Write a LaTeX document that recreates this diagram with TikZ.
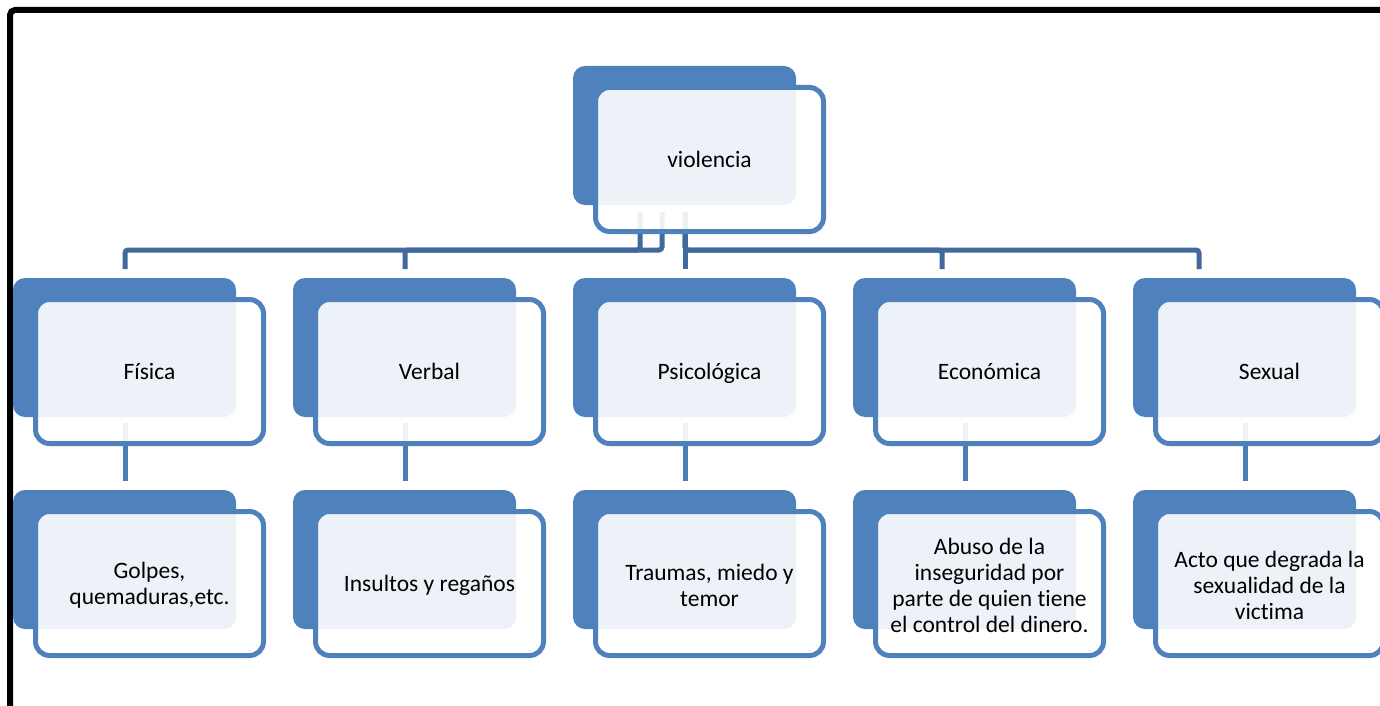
\documentclass[tikz,border=0pt]{standalone}
\usepackage{fontspec}
\setmainfont{Carlito}[Ligatures=NoCommon]
\definecolor{bbl}{HTML}{4F81BD}
\definecolor{cdark}{HTML}{41699B}
\definecolor{cmid}{HTML}{4A7EBA}
\begin{document}
\begin{tikzpicture}[x=1pt,y=-1pt,
  backbox/.style={draw=none, fill=bbl, rounded corners=12pt, minimum width=223pt, minimum height=139pt, anchor=north west, inner sep=0pt, outer sep=0pt},
  frontbox/.style={draw=bbl, line width=5pt, fill=white, fill opacity=0.9, text opacity=1, rounded corners=14pt, minimum width=228pt, minimum height=144pt, anchor=north west, inner sep=0pt, outer sep=0pt, align=center, font=\fontsize{23.5}{26}\selectfont, execute at begin node={\rule{0pt}{24pt}}, execute at end node={\strut}},
  mtext/.style={inner sep=0pt, align=center, font=\fontsize{23.5}{26}\selectfont, yshift=-1.5pt},
  topconn/.style={draw=cdark, line width=5pt, rounded corners=3pt},
  midconn/.style={draw=cmid, line width=5pt}]
\useasboundingbox (0,0) rectangle (1380,706);
\clip (0,0) rectangle (1380,706);
\fill[white] (0,0) rectangle (1380,706);
% frame
\draw[black, line width=6pt, rounded corners=5pt] (10,730) -- (10,10) -- (1400,10);
% back boxes
\node[backbox] (b0) at (573,66) {};
\node[backbox] (b1) at (13,278) {};
\node[backbox] (b2) at (293,278) {};
\node[backbox] (b3) at (573,278) {};
\node[backbox] (b4) at (853,278) {};
\node[backbox] (b5) at (1133,278) {};
\node[backbox] (c1) at (13,490) {};
\node[backbox] (c2) at (293,490) {};
\node[backbox] (c3) at (573,490) {};
\node[backbox] (c4) at (853,490) {};
\node[backbox] (c5) at (1133,490) {};
% connector end points
\coordinate (s1) at (640,212);
\coordinate (s2) at (662,212);
\coordinate (s3) at (685,212);
\coordinate (e1) at (125,269);
\coordinate (e2) at (405,269);
\coordinate (e3) at (685,269);
\coordinate (e4) at (942,269);
\coordinate (e5) at (1199,269);
\draw[topconn] (s1) -- (640,250) -- (125,250) -- (e1);
\draw[topconn] (s2) -- (662,250) -- (405,250) -- (e2);
\draw[topconn] (s3) -- (e3);
\draw[topconn] (s3) -- (685,250) -- (942,250) -- (e4);
\draw[topconn] (s3) -- (685,250) -- (1199,250) -- (e5);
\foreach \i/\x in {1/125,2/405,3/685,4/965,5/1245}{
  \coordinate (m\i) at (\x,423);
  \coordinate (n\i) at (\x,481);
  \draw[midconn] (m\i) -- (n\i);
}
% front boxes
\node[frontbox] (f0) at (595.5,87.5) {violencia};
\node[frontbox] (f1) at (35.5,299.5) {Física};
\node[frontbox] (f2) at (315.5,299.5) {Verbal};
\node[frontbox] (f3) at (595.5,299.5) {Psicológica};
\node[frontbox] (f4) at (875.5,299.5) {Económica};
\node[frontbox] (f5) at (1155.5,299.5) {Sexual};
\node[frontbox] (g1) at (35.5,511.5) {};
\node[frontbox] (g2) at (315.5,511.5) {Insultos y regaños};
\node[frontbox] (g3) at (595.5,511.5) {};
\node[frontbox] (g4) at (875.5,511.5) {};
\node[frontbox] (g5) at (1155.5,511.5) {};
\node[mtext] (t1) at (g1.center) {Golpes,\\quemaduras,etc.};
\node[mtext] (t3) at (g3.center) {Traumas, miedo y\\temor};
\node[mtext] (t4) at (g4.center) {Abuso de la\\inseguridad por\\parte de quien tiene\\el control del dinero.};
\node[mtext] (t5) at (g5.center) {Acto que degrada la\\sexualidad de la\\victima};
\end{tikzpicture}
\end{document}
